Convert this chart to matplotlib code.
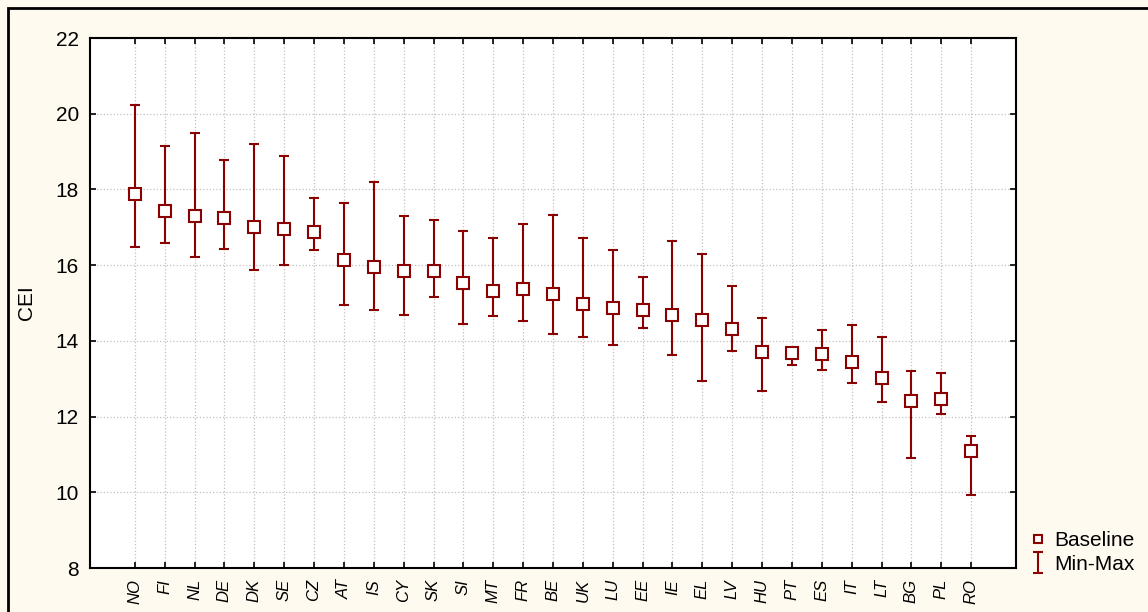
import matplotlib.pyplot as plt
from matplotlib.patches import Rectangle

plt.rcParams["font.family"] = ["Liberation Sans", "DejaVu Sans"]

countries = ["NO", "FI", "NL", "DE", "DK", "SE", "CZ", "AT", "IS", "CY", "SK", "SI",
             "MT", "FR", "BE", "UK", "LU", "EE", "IE", "EL", "LV", "HU", "PT", "ES",
             "IT", "LT", "BG", "PL", "RO"]
baseline = [17.88, 17.43, 17.31, 17.25, 17.00, 16.95, 16.87, 16.14, 15.96, 15.85, 15.85, 15.54,
            15.31, 15.37, 15.25, 14.97, 14.86, 14.82, 14.67, 14.55, 14.31, 13.70, 13.69, 13.64,
            13.44, 13.02, 12.42, 12.46, 11.09]
cei_max = [20.23, 19.16, 19.48, 18.78, 19.20, 18.88, 17.77, 17.65, 18.20, 17.30, 17.20, 16.90,
           16.71, 17.10, 17.32, 16.72, 16.40, 15.69, 16.64, 16.29, 15.44, 14.60, 13.76, 14.30,
           14.42, 14.10, 13.21, 13.14, 11.50]
cei_min = [16.47, 16.59, 16.22, 16.43, 15.87, 16.00, 16.39, 14.95, 14.82, 14.67, 15.17, 14.45,
           14.65, 14.52, 14.17, 14.09, 13.89, 14.35, 13.63, 12.95, 13.73, 12.68, 13.37, 13.23,
           12.90, 12.39, 10.90, 12.06, 9.93]

RED = "#8b0000"
BG = "#fffaf0"

fig = plt.figure(figsize=(11.48, 6.12), dpi=100, facecolor=BG)
ax = fig.add_axes([90 / 1148, 1 - 568 / 612, (1016 - 90) / 1148, (568 - 38) / 612])
ax.set_facecolor("white")

# outer frame of the figure
fig.patches.append(Rectangle((8 / 1148, -0.05), 1.1, 1 - 8 / 612 + 0.05,
                             transform=fig.transFigure, fill=False,
                             edgecolor="black", linewidth=2))

x = list(range(len(countries)))
lower = [b - lo for b, lo in zip(baseline, cei_min)]
upper = [hi - b for b, hi in zip(baseline, cei_max)]

ax.errorbar(x, baseline, yerr=[lower, upper], fmt="none", ecolor=RED,
            elinewidth=1.5, capsize=3.6, capthick=1.5, label="Min-Max", zorder=3)
ax.plot(x, baseline, linestyle="none", marker="s", markersize=8.5,
        markerfacecolor="white", markeredgecolor=RED, markeredgewidth=1.5,
        label="Baseline", zorder=4)

ax.set_xlim(-1.5, 29.5)
ax.set_ylim(8, 22)
ax.set_yticks(range(8, 23, 2))
ax.set_xticks(x)
ax.set_xticklabels(countries, rotation=90, style="italic", fontsize=12)
ax.tick_params(axis="y", labelsize=15, pad=8)
ax.tick_params(axis="x", pad=8)
ax.tick_params(direction="in", top=True, right=True, length=4, width=1.2)
ax.set_ylabel("CEI", fontsize=15, labelpad=14)

ax.grid(True, linestyle=":", color="#c0c0c0", linewidth=0.9)
ax.set_axisbelow(True)
for s in ax.spines.values():
    s.set_linewidth(1.5)

handles, labels = ax.get_legend_handles_labels()
order = [labels.index("Baseline"), labels.index("Min-Max")]
ax.legend([handles[i] for i in order], [labels[i] for i in order],
          loc="lower left", bbox_to_anchor=(1.0, -0.035), frameon=False,
          fontsize=15, handlelength=0.9, handletextpad=0.35, borderaxespad=0.2,
          labelspacing=0.25, markerscale=0.7)

fig.savefig("out.png", dpi=100, facecolor=BG)
